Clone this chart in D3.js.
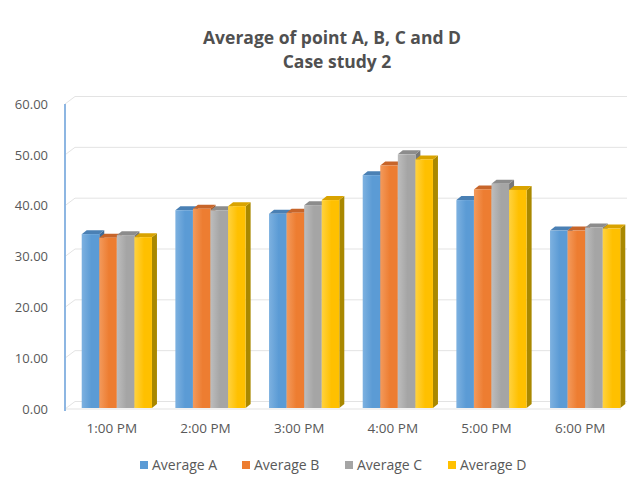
<!DOCTYPE html>
<html>
<head>
<meta charset="utf-8">
<script src="https://cdn.jsdelivr.net/npm/d3@7"></script>
<style>
  body { margin: 0; background: #fff; }
  text { font-family: "Open Sans", sans-serif; fill: #595959; }
</style>
</head>
<body>
<div id="chart"></div>
<script>
// size of svg
const width = 629; const height = 484;
const margin = {top: 104, right: 2, bottom: 75, left: 65};

// data
const categories = ["1:00 PM", "2:00 PM", "3:00 PM", "4:00 PM", "5:00 PM", "6:00 PM"];
const series = ["Average A", "Average B", "Average C", "Average D"];
const avgA = [34.4, 39.1, 38.4, 46.0, 41.1, 35.1];
const avgB = [33.7, 39.4, 38.6, 47.9, 43.2, 35.1];
const avgC = [34.2, 39.1, 40.1, 50.1, 44.3, 35.7];
const avgD = [33.8, 39.9, 41.1, 49.1, 43.1, 35.5];
const yTicks = [0, 10, 20, 30, 40, 50, 60];

const values = [avgA, avgB, avgC, avgD];
const front = ["#5B9BD5", "#ED7D31", "#A5A5A5", "#FFC000"];
const light = ["#7DB1E0", "#F39A5C", "#BDBDBD", "#FFD23F"];
const topC = ["#4A80B4", "#C7652A", "#8C8C8C", "#D9A300"];
const sideC = ["#3E6C99", "#A9561F", "#777777", "#A98800"];

let svg = d3.select('#chart')
    .append('svg')
        .attr('width', width)
        .attr('height', height);

// gradients for front faces
const defs = svg.append('defs');
series.forEach(function(s, i){
    const g = defs.append('linearGradient')
        .attr('id', 'grad' + i)
        .attr('x1', '0%').attr('x2', '100%').attr('y1', '0%').attr('y2', '0%');
    g.append('stop').attr('offset', '0%').attr('stop-color', light[i]);
    g.append('stop').attr('offset', '55%').attr('stop-color', front[i]);
    g.append('stop').attr('offset', '100%').attr('stop-color', front[i]);
});

// title
svg.append('text')
    .attr('x', 332).attr('y', 44)
    .attr('text-anchor', 'middle')
    .style('font-size', '17.5px').style('font-weight', 'bold').style('fill', '#505050')
    .text('Average of point A, B, C and D');
svg.append('text')
    .attr('x', 337).attr('y', 68)
    .attr('text-anchor', 'middle')
    .style('font-size', '17.5px').style('font-weight', 'bold').style('fill', '#505050')
    .text('Case study 2');

// scales
const y_scale = d3.scaleLinear()
    .domain([0, 60])
    .range([409, margin.top]);
const x_scale = d3.scaleBand()
    .domain(categories)
    .range([margin.left, width - margin.right])
    .paddingInner(0.25)
    .paddingOuter(0.125);
const x_inner = d3.scaleBand()
    .domain(series)
    .range([0, x_scale.bandwidth()]);

// 3d offsets
const wallDx = 10, wallDy = -7.5;
const barDx = 5, barDy = -4;
const barShift = 5;

// back wall gridlines
const grid = svg.append('g');
yTicks.forEach(function(t){
    const yy = y_scale(t);
    grid.append('line')
        .attr('x1', margin.left + wallDx).attr('x2', width - 2)
        .attr('y1', yy + wallDy).attr('y2', yy + wallDy)
        .attr('stroke', '#E3E3E3').attr('stroke-width', 1);
    grid.append('line')
        .attr('x1', margin.left).attr('x2', margin.left + wallDx)
        .attr('y1', yy).attr('y2', yy + wallDy)
        .attr('stroke', '#E3E3E3').attr('stroke-width', 1);
});
// floor front edge
grid.append('line')
    .attr('x1', margin.left).attr('x2', width - 8)
    .attr('y1', y_scale(0)).attr('y2', y_scale(0))
    .attr('stroke', '#E3E3E3');

// y axis
const y_axis = d3.axisLeft(y_scale)
    .tickValues(yTicks)
    .tickSize(0)
    .tickPadding(17)
    .tickFormat(d3.format('.2f'));
const yG = svg.append('g')
    .attr('transform', `translate(${margin.left}, 0)`)
    .call(y_axis);
yG.select('.domain').remove();
yG.selectAll('text').style('font-size', '13px').style('fill', '#595959');
svg.append('line')
    .attr('x1', margin.left).attr('x2', margin.left)
    .attr('y1', y_scale(60)).attr('y2', y_scale(0) + 2)
    .attr('stroke', '#8DB6E2').attr('stroke-width', 2);

// x axis labels
const x_axis = d3.axisBottom(x_scale).tickSize(0).tickPadding(14);
const xG = svg.append('g')
    .attr('transform', `translate(0, ${y_scale(0)})`)
    .call(x_axis);
xG.select('.domain').remove();
xG.selectAll('text').style('font-size', '13.5px').style('fill', '#595959');

// bars
const bars = svg.append('g');
categories.forEach(function(c, ci){
    series.forEach(function(s, si){
        const v = values[si][ci];
        const x = x_scale(c) + x_inner(s) + barShift;
        const w = x_inner.bandwidth();
        const y = y_scale(v);
        const y0 = y_scale(0) - 1;
        const g = bars.append('g');
        g.append('polygon')
            .attr('points', [[x + w, y], [x + w + barDx, y + barDy], [x + w + barDx, y0 + barDy], [x + w, y0]].join(' '))
            .attr('fill', sideC[si]);
        g.append('polygon')
            .attr('points', [[x, y], [x + barDx, y + barDy], [x + w + barDx, y + barDy], [x + w, y]].join(' '))
            .attr('fill', topC[si]);
        g.append('rect')
            .attr('x', x).attr('y', y)
            .attr('width', w).attr('height', y0 - y)
            .attr('fill', `url(#grad${si})`);
    });
});

// legend
const legendX = [140, 242, 345, 448];
const legend = svg.append('g');
series.forEach(function(s, i){
    legend.append('rect')
        .attr('x', legendX[i]).attr('y', 461)
        .attr('width', 8).attr('height', 8)
        .attr('fill', front[i]);
    legend.append('text')
        .attr('x', legendX[i] + 12).attr('y', 470)
        .style('font-size', '14px')
        .text(s);
});
</script>
</body>
</html>
